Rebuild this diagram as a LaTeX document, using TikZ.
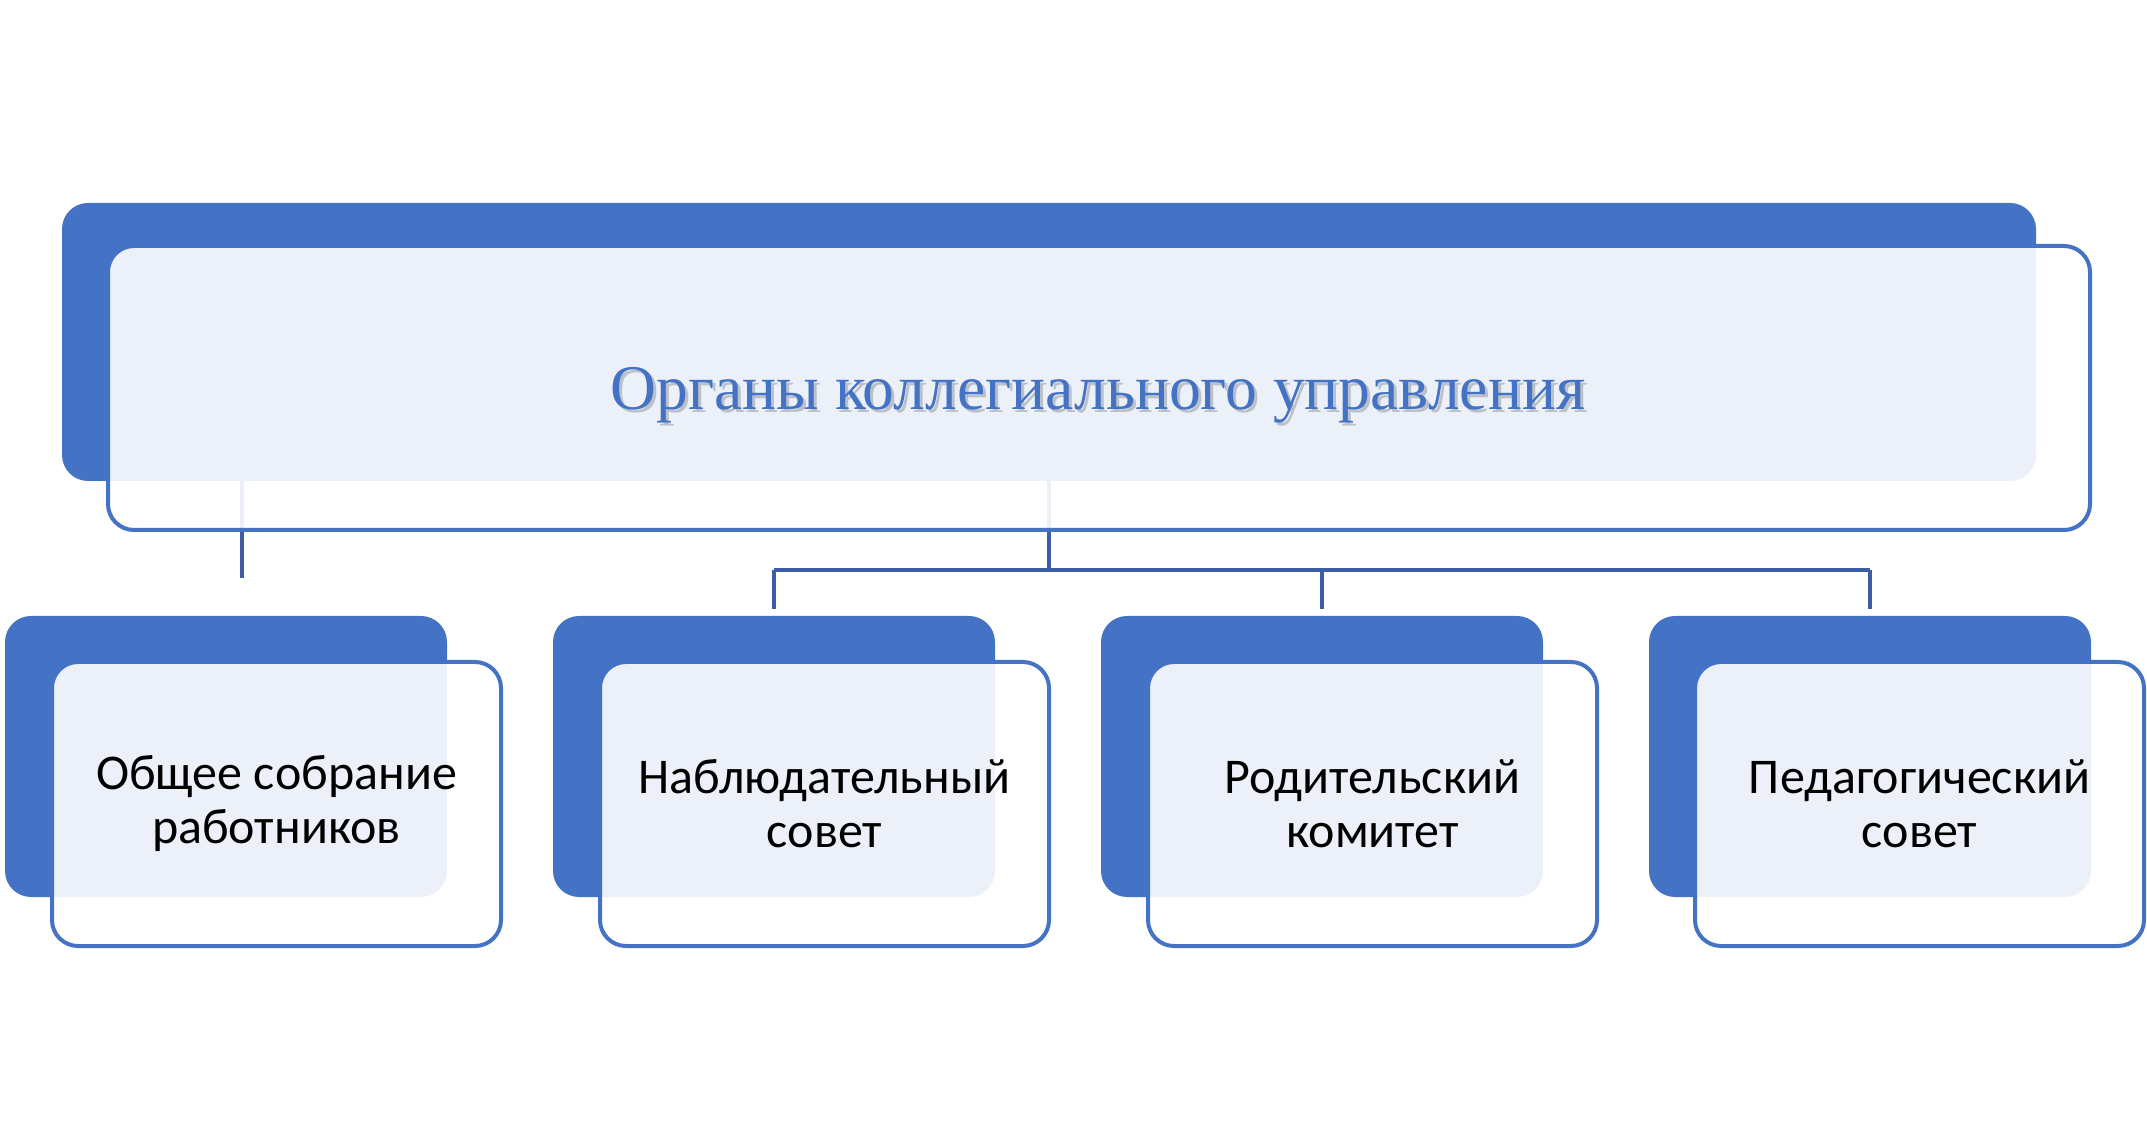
\documentclass[tikz,border=0pt]{standalone}
\usepackage{fontspec}
\setmainfont{Carlito}
\newfontfamily\titlefont{Liberation Serif}
\definecolor{orgblue}{HTML}{4472C4}
\definecolor{linkblue}{HTML}{3B5EA6}
\tikzset{
  backbox/.style={fill=orgblue, rounded corners=13pt, inner sep=0pt},
  frontbox/.style={draw=orgblue, line width=2pt, fill=white, fill opacity=0.9, text opacity=1,
    rounded corners=13pt, align=center, inner sep=0pt, font=\fontsize{25}{27}\selectfont},
  titlefnt/.style={font=\titlefont\fontsize{31.8}{38}\selectfont},
  link/.style={draw=linkblue, line width=2.2pt},
}
\begin{document}
\begin{tikzpicture}[x=0.5pt,y=-0.5pt]
\useasboundingbox (0,0) rectangle (2147,1143);
% back boxes
\node[backbox, minimum width=987pt, minimum height=139pt] (titleback) at (1049,342) {};
\foreach \n/\x in {1/226,2/774,3/1322,4/1870}
  \node[backbox, minimum width=221pt, minimum height=140.5pt] (back\n) at (\x,756.5) {};
% connectors
\coordinate (fork) at (1047,570);
\coordinate (stub) at (242,578);
\draw[link] (titleback.south -| stub) -- (stub);
\draw[link] (titleback.south) -- (titleback.south |- fork);
\draw[link] (back2.north |- fork) -- (back4.north |- fork);
\foreach \n in {2,3,4}
  \draw[link, shorten >=3.5pt] (back\n.north |- fork) -- (back\n.north);
% front boxes
\node[frontbox, minimum width=991pt, minimum height=142pt] (title) at (1099,388) {};
\node[titlefnt, text=black, text opacity=0.2] (titleshade) at (1101,398) {Органы коллегиального управления};
\node[titlefnt, text=orgblue] (titletext) at (1098,395) {Органы коллегиального управления};
\foreach \n/\x/\txt in {1/276.5/{Общее собрание\\работников},2/824.5/{Наблюдательный\\совет},
    3/1372.5/{Родительский\\комитет},4/1919.5/{Педагогический\\совет}}
  \node[frontbox, minimum width=224.5pt, minimum height=142pt] (box\n) at (\x,804) {\txt};
\end{tikzpicture}
\end{document}
